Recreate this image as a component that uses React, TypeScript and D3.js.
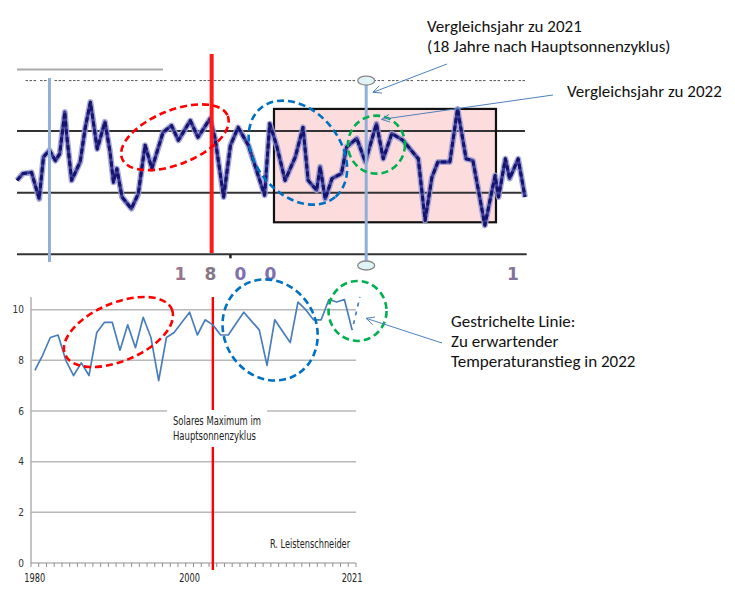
import React from 'react';
import * as d3 from 'd3';

// ---- lower chart: annual mean temperature (°C), 1980–2021
const years = d3.range(1980, 2022);
const temps = [
  7.6, 8.2, 8.9, 9.0, 8.0, 7.4, 7.9, 7.4, 9.1, 9.5,
  9.5, 8.4, 9.4, 8.5, 9.7, 8.9, 7.2, 8.9, 9.1, 9.5,
  9.9, 9.0, 9.6, 9.4, 9.0, 9.0, 9.45, 9.9, 9.55, 9.2,
  7.8, 9.6, 9.15, 8.7, 10.3, 10.0, 9.6, 9.6, 10.4, 10.3,
  10.4, 9.2,
];
const projYears = [2021, 2022];
const projTemps = [9.2, 10.5];
const yTicks = [0, 2, 4, 6, 8, 10];
const xLabelYears = [1980, 2000, 2021];
const solarMaxYear = 2003;

// ---- upper chart: scanned 18th/19th century series
const topYears = [
  1775.0, 1775.7, 1776.7, 1777.6, 1778.1, 1778.8, 1779.5, 1780.0, 1780.6, 1780.8,
  1781.4, 1782.4, 1783.0, 1783.6, 1784.4, 1785.3, 1785.9, 1786.3, 1786.7, 1787.3,
  1788.4, 1789.2, 1790.0, 1790.8, 1792.1, 1793.1, 1793.9, 1795.3, 1796.2, 1797.6,
  1798.2, 1799.2, 1800.0, 1800.9, 1802.1, 1804.0, 1804.6, 1805.4, 1806.4, 1807.6,
  1808.5, 1809.1, 1810.1, 1810.5, 1811.1, 1811.9, 1813.0, 1813.6, 1814.8, 1815.8,
  1817.1, 1817.9, 1818.9, 1820.2, 1822.0, 1822.8, 1823.6, 1824.3, 1825.7, 1826.6,
  1827.6, 1828.4, 1829.8, 1831.0, 1831.4, 1832.2, 1832.7, 1833.7, 1834.5,
];
const topTemps = [
  8.20, 8.31, 8.33, 7.90, 8.58, 8.69, 8.52, 8.63, 9.31, 8.96,
  8.20, 8.50, 9.06, 9.47, 8.71, 9.15, 8.66, 8.17, 8.39, 7.93,
  7.74, 7.98, 8.77, 8.39, 8.98, 9.09, 8.85, 9.17, 8.90, 9.20,
  8.88, 7.93, 8.77, 9.06, 8.77, 7.96, 9.12, 8.77, 8.20, 8.58,
  9.06, 8.20, 8.04, 8.42, 7.90, 8.23, 8.31, 8.74, 8.88, 8.50,
  9.12, 8.55, 8.96, 8.85, 8.55, 7.55, 8.25, 8.50, 8.50, 9.36,
  8.55, 8.52, 7.47, 8.28, 7.93, 8.55, 8.23, 8.55, 7.93,
];
const topRefLines = [8, 9];
const topDashedLevel = 9.82;
const topGreyLevel = 10;
const topLeftMarker = 1778.8;
const topSolarMax = 1797.8;
const topCompareYear = 1815.9;
const topBox = { from: 1805.1, to: 1831.1, low: 7.52, high: 9.36 };
const topTickYear = 1800;
const topTickChars = ['1', '8', '0', '0'];

const narrow = "'Liberation Sans Narrow', 'DejaVu Sans Condensed', sans-serif";
const note = "Carlito, 'Liberation Sans', sans-serif";

function Arrow({ x1, y1, x2, y2 }: { x1: number; y1: number; x2: number; y2: number }) {
  const a = Math.atan2(y1 - y2, x1 - x2);
  const len = 9;
  const s = 0.45;
  const p1 = [x2 + len * Math.cos(a + s), y2 + len * Math.sin(a + s)];
  const p2 = [x2 + len * Math.cos(a - s), y2 + len * Math.sin(a - s)];
  return (
    <g stroke="#4f81bd" strokeWidth={1} fill="none">
      <line x1={x1} y1={y1} x2={x2} y2={y2} />
      <polyline points={`${p1[0]},${p1[1]} ${x2},${y2} ${p2[0]},${p2[1]}`} />
    </g>
  );
}

export default function App() {
  // upper chart scales
  const xT = d3.scaleLinear().domain([1775, 1834.5]).range([17, 525]);
  const yT = d3.scaleLinear().domain([7, 10]).range([254.3, 69.5]);
  const topLine = d3.line<number>()
    .x((_, i) => xT(topYears[i]))
    .y(d => yT(d))(topTemps) as string;

  // lower chart scales
  const x = d3.scaleLinear().domain([1979.5, 2021.5]).range([31, 356]);
  const y = d3.scaleLinear().domain([0, 10.5]).range([563, 297]);
  const line = d3.line<number>()
    .x((_, i) => x(years[i]))
    .y(d => y(d))(temps) as string;
  const projLine = d3.line<number>()
    .x((_, i) => x(projYears[i]))
    .y(d => y(d))(projTemps) as string;
  const boundaries = d3.range(1979.5, 2022, 1);

  const ellipse = (cx: number, cy: number, rx: number, ry: number, rot: number, color: string, key: string) => (
    <ellipse key={key} cx={0} cy={0} rx={rx} ry={ry}
      transform={`translate(${cx},${cy}) rotate(${rot})`}
      fill="none" stroke={color} strokeWidth={2.6} strokeDasharray="7 4" />
  );

  return (
    <svg width={735} height={599} style={{ position: 'absolute', left: 0, top: 0, background: '#fff' }}>
      {/* ===== upper chart ===== */}
      <rect x={xT(topBox.from)} y={yT(topBox.high)} width={xT(topBox.to) - xT(topBox.from)}
        height={yT(topBox.low) - yT(topBox.high)} fill="#fcdcdc" />
      <line x1={xT(1775)} x2={xT(1792.1)} y1={yT(topGreyLevel)} y2={yT(topGreyLevel)} stroke="#aaa" strokeWidth={2} />
      <line x1={xT(1776)} x2={xT(1834.5)} y1={yT(topDashedLevel)} y2={yT(topDashedLevel)}
        stroke="#555" strokeWidth={1} strokeDasharray="2.5 1.5 2.5 1.5 2.5 4" />
      {topRefLines.map(v => (
        <line key={v} x1={xT(1775)} x2={xT(1834.5)} y1={yT(v)} y2={yT(v)} stroke="#333" strokeWidth={2} />
      ))}
      <line x1={xT(1775)} x2={xT(1834.7)} y1={yT(7)} y2={yT(7)} stroke="#333" strokeWidth={2} />
      <line x1={xT(topTickYear)} x2={xT(topTickYear)} y1={yT(7)} y2={yT(7) + 4} stroke="#222" strokeWidth={2.5} />
      <rect x={xT(topBox.from)} y={yT(topBox.high)} width={xT(topBox.to) - xT(topBox.from)}
        height={yT(topBox.low) - yT(topBox.high)} fill="none" stroke="#111" strokeWidth={2.2} />

      <path d={topLine} fill="none" stroke="#9a9ad0" strokeWidth={6} strokeLinejoin="round" opacity={0.85} />
      <path d={topLine} fill="none" stroke="#3a3a96" strokeWidth={3} strokeLinejoin="round" />
      <path d={topLine} fill="none" stroke="#14146e" strokeWidth={3} strokeDasharray="5 3" strokeLinejoin="round" />

      <line x1={xT(topLeftMarker)} x2={xT(topLeftMarker)} y1={78} y2={262} stroke="#8fb0d8" strokeWidth={3} />
      <line x1={xT(topSolarMax)} x2={xT(topSolarMax)} y1={54} y2={253} stroke="#ff1a1a" strokeWidth={4} />
      <line x1={xT(topCompareYear)} x2={xT(topCompareYear)} y1={yT(topDashedLevel)} y2={265.5} stroke="#8fb0d8" strokeWidth={3} />
      <ellipse cx={xT(topCompareYear)} cy={yT(topDashedLevel)} rx={8.5} ry={4.5} fill="#e0f4f8" stroke="#888" strokeWidth={1.3} />
      <ellipse cx={xT(topCompareYear)} cy={265.5} rx={8.5} ry={4.5} fill="#e0f4f8" stroke="#888" strokeWidth={1.3} />

      {ellipse(xT(1793.5), yT(8.9), 57, 27, -22, '#ff0000', 'tr')}
      {ellipse(xT(1807.9), yT(8.65), 58, 42, 50, '#0070c0', 'tb')}
      {ellipse(xT(1817.1), yT(8.78), 28.5, 29, 0, '#00b050', 'tg')}

      {topTickChars.map((c, i) => (
        <text key={i} x={xT(topTickYear) - 50 + i * 30} y={280} textAnchor="middle"
          fontFamily="'DejaVu Sans', sans-serif" fontWeight="bold" fontSize={17}
          fill={i === 0 ? '#8a5a7a' : i === 1 ? '#6e6070' : '#6858a0'} opacity={0.85}>{c}</text>
      ))}
      <text x={513} y={280} textAnchor="middle" fontFamily="'DejaVu Sans', sans-serif"
        fontWeight="bold" fontSize={17} fill="#6a5a8a" opacity={0.85}>1</text>

      {/* ===== lower chart ===== */}
      {yTicks.filter(t => t > 0).map(t => (
        <line key={t} x1={x(1979.5)} x2={x(2021.5)} y1={y(t)} y2={y(t)} stroke="#b8b8b8" strokeWidth={1.5} />
      ))}
      <line x1={x(1979.5)} x2={x(1979.5)} y1={y(10.5)} y2={y(0)} stroke="#b0b0b0" strokeWidth={1.5} />
      <line x1={x(1979.5)} x2={x(2021.5)} y1={y(0)} y2={y(0)} stroke="#909090" strokeWidth={1.2} />
      {boundaries.map(b => (
        <line key={b} x1={x(b)} x2={x(b)} y1={y(0)} y2={y(0) + 4} stroke="#909090" strokeWidth={1} />
      ))}
      {yTicks.map(t => (
        <text key={t} x={24} y={y(t) + 3.5} textAnchor="end" fontFamily={narrow} fontSize={10} fill="#333">{t}</text>
      ))}
      {xLabelYears.map(yr => (
        <text key={yr} x={x(yr)} y={582} textAnchor="middle" fontFamily={narrow} fontSize={12.5} fill="#222"
          textLength={21} lengthAdjust="spacingAndGlyphs">{yr}</text>
      ))}

      <line x1={x(solarMaxYear)} x2={x(solarMaxYear)} y1={297} y2={570} stroke="#ff0000" strokeWidth={2.4} />
      <rect x={167} y={410} width={100} height={37} fill="#fff" />
      <text x={173} y={425} fontFamily={narrow} fontSize={12} fill="#222"
        textLength={88} lengthAdjust="spacingAndGlyphs">Solares Maximum im</text>
      <text x={173} y={440} fontFamily={narrow} fontSize={12} fill="#222"
        textLength={83} lengthAdjust="spacingAndGlyphs">Hauptsonnenzyklus</text>
      <text x={270} y={548} fontFamily={narrow} fontSize={12} fill="#222"
        textLength={80} lengthAdjust="spacingAndGlyphs">R. Leistenschneider</text>

      <path d={line} fill="none" stroke="#4a7ebb" strokeWidth={1.7} strokeLinejoin="round" />
      <path d={projLine} fill="none" stroke="#4a7ebb" strokeWidth={1.7} strokeDasharray="4 5" strokeDashoffset={-6} />

      {ellipse(x(1990.8), y(9.12), 58, 29, -23, '#ff0000', 'br')}
      {ellipse(x(2010.4), y(9.2), 52, 46, 60, '#0070c0', 'bb')}
      {ellipse(x(2021.7), y(9.95), 29, 30, 0, '#00b050', 'bg')}

      {/* ===== annotations ===== */}
      <text fontFamily={note} fontSize={17} fill="#111">
        <tspan x={427} y={32}>Vergleichsjahr zu 2021</tspan>
        <tspan x={427} y={52}>(18 Jahre nach Hauptsonnenzyklus)</tspan>
      </text>
      <text x={567} y={97} fontFamily={note} fontSize={17} fill="#111">Vergleichsjahr zu 2022</text>
      <text fontFamily={note} fontSize={17} fill="#111">
        <tspan x={451} y={327}>Gestrichelte Linie:</tspan>
        <tspan x={451} y={347}>Zu erwartender</tspan>
        <tspan x={451} y={367}>Temperaturanstieg in 2022</tspan>
      </text>
      <Arrow x1={447} y1={64} x2={xT(1816.7)} y2={yT(9.63)} />
      <Arrow x1={553} y1={95} x2={xT(1817.7)} y2={yT(9.19)} />
      <Arrow x1={442} y1={343} x2={x(2022.8)} y2={y(9.66)} />
    </svg>
  );
}
